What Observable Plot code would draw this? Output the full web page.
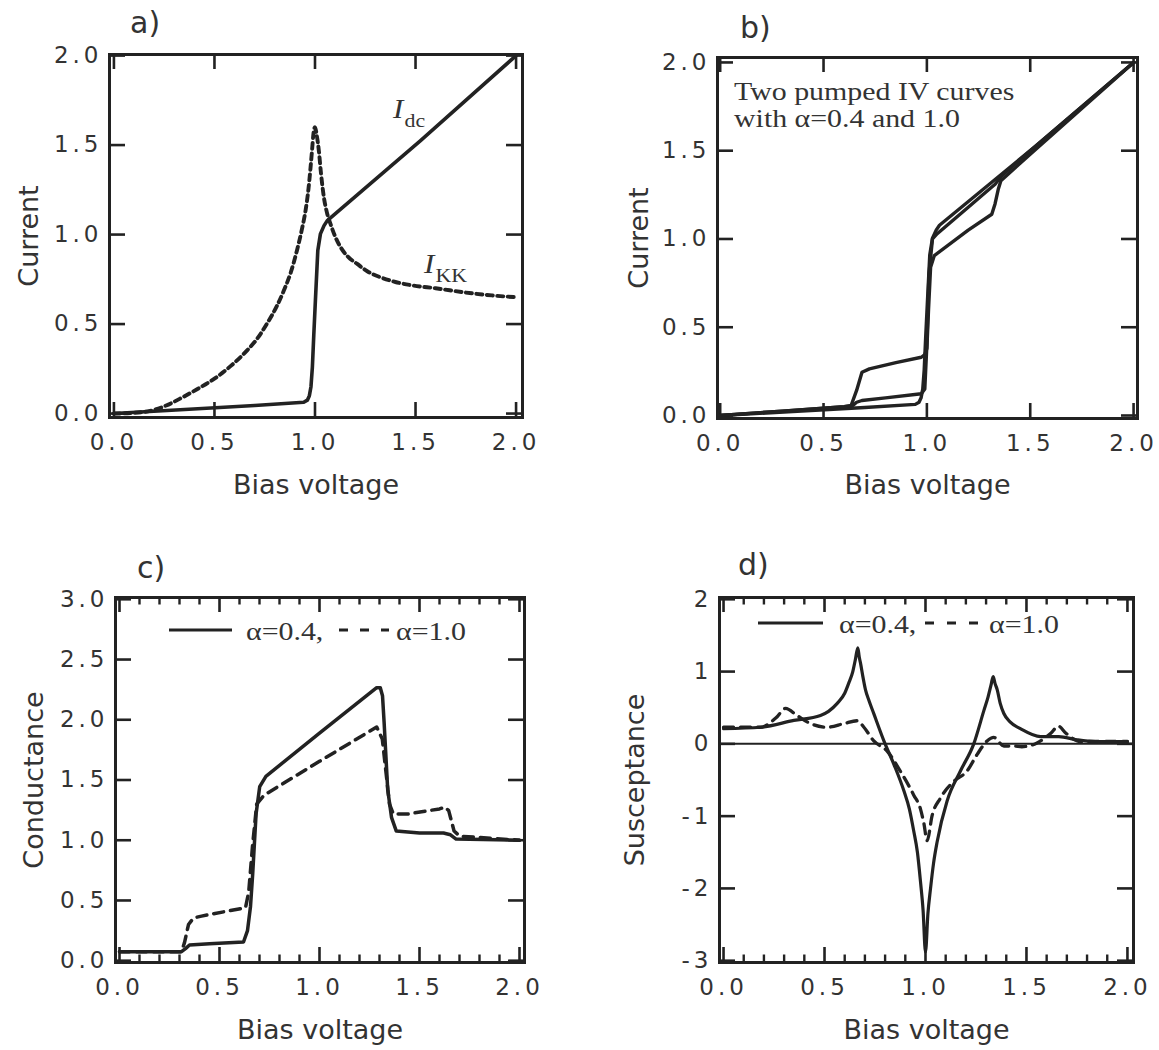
<!DOCTYPE html>
<html>
<head>
<meta charset="utf-8">
<script src="https://cdn.jsdelivr.net/npm/d3@7"></script>
<script src="https://cdn.jsdelivr.net/npm/@observablehq/plot@0.6"></script>
<style>
  html, body { margin: 0; padding: 0; background: #fff; }
  #root { position: relative; width: 1159px; height: 1050px; overflow: hidden; background: #fff; }
  .panel { position: absolute; }
  .panel g[aria-label="x-axis tick label"],
  .panel g[aria-label="y-axis tick label"] { font-size: 23px !important; }
  .panel g[aria-label="x-axis tick label"] text,
  .panel g[aria-label="y-axis tick label"] text { letter-spacing: 4px; font-size: 23px; }
  .panel g[aria-label="xtitle"] text { letter-spacing: 0.7px; }
  #overlay { position: absolute; left: 0; top: 0; pointer-events: none; }
  #overlay .plab { font-family: "DejaVu Sans"; font-size: 30px; fill: #333; }
  #overlay .serif { font-family: "Liberation Serif"; fill: #333; }
</style>
</head>
<body>
<div id="root">
  <div class="panel" id="pa" style="left:0px;top:0px"></div>
  <div class="panel" id="pb" style="left:580px;top:0px"></div>
  <div class="panel" id="pc" style="left:0px;top:520px"></div>
  <div class="panel" id="pd" style="left:580px;top:520px"></div>
  <svg id="overlay" width="1159" height="1050" xmlns="http://www.w3.org/2000/svg">
    <text class="plab" x="130" y="33">a)</text>
    <text class="plab" x="740" y="38">b)</text>
    <text class="plab" x="137" y="578">c)</text>
    <text class="plab" x="738" y="575">d)</text>

    <g transform="translate(393,118) scale(1.15,1)">
      <text class="serif" font-size="27" font-style="italic" x="0" y="0">I</text>
      <text class="serif" font-size="19" x="10" y="9">dc</text>
    </g>
    <g transform="translate(424,273) scale(1.15,1)">
      <text class="serif" font-size="27" font-style="italic" x="0" y="0">I</text>
      <text class="serif" font-size="19" x="10" y="9">KK</text>
    </g>

    <g transform="translate(734,100) scale(1.15,1)">
      <text class="serif" font-size="26" x="0" y="0">Two pumped IV curves</text>
      <text class="serif" font-size="26" x="0" y="27">with α=0.4 and 1.0</text>
    </g>

    <line x1="169" y1="630" x2="232" y2="630" stroke="#222" stroke-width="3"/>
    <text class="serif" font-size="26" transform="translate(246,640) scale(1.15,1)">α=0.4,</text>
    <line x1="339" y1="630" x2="389" y2="630" stroke="#222" stroke-width="3" stroke-dasharray="9,12"/>
    <text class="serif" font-size="26" transform="translate(396,640) scale(1.15,1)">α=1.0</text>

    <line x1="758" y1="623" x2="823" y2="623" stroke="#222" stroke-width="3"/>
    <text class="serif" font-size="26" transform="translate(839,633) scale(1.15,1)">α=0.4,</text>
    <line x1="925" y1="623" x2="979" y2="623" stroke="#222" stroke-width="3" stroke-dasharray="9,13"/>
    <text class="serif" font-size="26" transform="translate(989,633) scale(1.15,1)">α=1.0</text>
  </svg>
</div>
<script>
const ink = "#222";

// ---------- Panel a: unpumped DC current and its Kramers-Kronig partner ----------
const aDcV = [0, 0.33, 0.7, 0.944, 0.962, 0.972, 0.98, 0.987, 0.994, 1.002, 1.014, 1.027, 1.045, 1.061, 1.525, 2.0];
const aDcI = [0, 0.021, 0.045, 0.063, 0.075, 0.1, 0.15, 0.259, 0.44, 0.631, 0.911, 1.004, 1.05, 1.078, 1.525, 2.0];
const aKkV = [0, 0.1, 0.18, 0.26, 0.34, 0.42, 0.5, 0.58, 0.66, 0.72, 0.76, 0.81, 0.845, 0.88, 0.91, 0.935, 0.953, 0.968, 0.978, 0.986, 0.992, 1.0, 1.008, 1.019, 1.03, 1.044, 1.06, 1.077, 1.1, 1.127, 1.165, 1.21, 1.26, 1.326, 1.4, 1.49, 1.6, 1.75, 1.88, 2.0];
const aKkI = [0, 0.004, 0.015, 0.045, 0.09, 0.14, 0.195, 0.265, 0.35, 0.43, 0.5, 0.6, 0.687, 0.79, 0.91, 1.03, 1.134, 1.26, 1.376, 1.48, 1.56, 1.6, 1.56, 1.47, 1.34, 1.21, 1.12, 1.06, 0.99, 0.93, 0.875, 0.836, 0.795, 0.761, 0.735, 0.715, 0.7, 0.676, 0.66, 0.65];

// ---------- Panel b: pumped IV curves ----------
const bA04V = [0, 0.3, 0.6, 0.642, 0.66, 0.686, 0.8, 0.973, 0.99, 1.0, 1.01, 1.027, 1.05, 1.2, 1.3, 1.33, 1.36, 1.5, 2.0];
const bA04I = [0, 0.025, 0.05, 0.057, 0.075, 0.085, 0.1, 0.123, 0.15, 0.4, 0.8, 1.0, 1.03, 1.18, 1.28, 1.31, 1.355, 1.5, 2.0];
const bA10V = [0, 0.3, 0.6, 0.633, 0.66, 0.686, 0.722, 0.85, 0.973, 0.99, 1.0, 1.008, 1.018, 1.036, 1.2, 1.314, 1.33, 1.345, 1.358, 1.5, 2.0];
const bA10I = [0, 0.025, 0.05, 0.055, 0.142, 0.245, 0.264, 0.3, 0.33, 0.345, 0.38, 0.6, 0.84, 0.906, 1.05, 1.14, 1.2, 1.28, 1.33, 1.48, 2.0];

// ---------- Panel c: conductance ----------
const cA04V = [0, 0.31, 0.33, 0.35, 0.45, 0.62, 0.64, 0.655, 0.666, 0.683, 0.701, 0.732, 1.0, 1.286, 1.304, 1.315, 1.323, 1.341, 1.36, 1.384, 1.5, 1.62, 1.655, 1.683, 2.0];
const cA04G = [0.075, 0.075, 0.1, 0.13, 0.14, 0.155, 0.25, 0.45, 0.72, 1.22, 1.445, 1.53, 1.89, 2.266, 2.266, 2.2, 1.98, 1.42, 1.19, 1.076, 1.06, 1.06, 1.045, 1.01, 1.0];
const cA10V = [0, 0.31, 0.325, 0.345, 0.37, 0.41, 0.63, 0.646, 0.665, 0.686, 0.723, 1.0, 1.286, 1.314, 1.35, 1.369, 1.443, 1.6, 1.627, 1.646, 1.673, 1.701, 2.0];
const cA10G = [0.075, 0.075, 0.15, 0.3, 0.355, 0.37, 0.44, 0.57, 0.95, 1.3, 1.374, 1.655, 1.94, 1.84, 1.3, 1.218, 1.218, 1.26, 1.275, 1.246, 1.076, 1.034, 1.0];

// ---------- Panel d: susceptance ----------
const dA04V = [0, 0.183, 0.348, 0.48, 0.52, 0.563, 0.6, 0.62, 0.64, 0.653, 0.665, 0.672, 0.678, 0.69, 0.703, 0.72, 0.744, 0.794, 0.843, 0.893, 0.92, 0.942, 0.96, 0.975, 0.988, 1.0, 1.012, 1.025, 1.04, 1.058, 1.107, 1.173, 1.239, 1.289, 1.31, 1.325, 1.335, 1.345, 1.355, 1.37, 1.388, 1.42, 1.47, 1.57, 1.66, 1.75, 1.84, 2.0];
const dA04B = [0.21, 0.23, 0.324, 0.394, 0.45, 0.56, 0.7, 0.84, 1.0, 1.17, 1.33, 1.2, 1.12, 0.93, 0.746, 0.6, 0.418, 0.042, -0.28, -0.65, -0.9, -1.21, -1.5, -1.9, -2.3, -2.88, -2.35, -2.0, -1.65, -1.35, -0.79, -0.375, 0, 0.46, 0.65, 0.82, 0.93, 0.83, 0.75, 0.56, 0.42, 0.3, 0.21, 0.1, 0.1, 0.057, 0.033, 0.03];
const dA10V = [0, 0.183, 0.26, 0.307, 0.365, 0.431, 0.513, 0.596, 0.662, 0.695, 0.744, 0.81, 0.876, 0.942, 0.975, 0.992, 1.008, 1.033, 1.074, 1.14, 1.206, 1.256, 1.305, 1.338, 1.388, 1.437, 1.477, 1.55, 1.622, 1.658, 1.694, 1.767, 2.0];
const dA10B = [0.23, 0.23, 0.36, 0.49, 0.39, 0.28, 0.23, 0.28, 0.32, 0.23, 0.04, -0.1, -0.38, -0.71, -0.9, -1.1, -1.34, -0.99, -0.75, -0.52, -0.375, -0.145, 0.04, 0.09, -0.03, -0.03, -0.04, 0.01, 0.15, 0.245, 0.15, 0.033, 0.033];

// ---------- Ticks ----------
const xMajor = [0, 0.5, 1, 1.5, 2];
const xMinor = [0.1, 0.2, 0.3, 0.4, 0.6, 0.7, 0.8, 0.9, 1.1, 1.2, 1.3, 1.4, 1.6, 1.7, 1.8, 1.9];
const yTicksIV = [0, 0.5, 1, 1.5, 2];
const yTicksG = [0, 0.5, 1, 1.5, 2, 2.5, 3];
const yTicksB = [-3, -2, -1, 0, 1, 2];

const rows = (xs, ys) => xs.map((x, i) => ({x, y: ys[i]}));

function tickRules(vals, axis, len, cfg, sw) {
  const [xa, xb] = cfg.xDomain, [ya, yb] = cfg.yDomain;
  const iw = cfg.width - cfg.ml - cfg.mr, ih = cfg.height - cfg.mt - cfg.mb;
  const ux = len * (xb - xa) / iw, uy = len * (yb - ya) / ih;
  const o = {stroke: ink, strokeWidth: sw, strokeLinecap: "butt"};
  if (axis === "x") return [
    Plot.ruleX(vals, {x: d => d, y1: ya, y2: ya + uy, ...o}),
    Plot.ruleX(vals, {x: d => d, y1: yb, y2: yb - uy, ...o})
  ];
  return [
    Plot.ruleY(vals, {y: d => d, x1: xa, x2: xa + ux, ...o}),
    Plot.ruleY(vals, {y: d => d, x1: xb, x2: xb - ux, ...o})
  ];
}

function panel(cfg) {
  const marks = [];
  marks.push(...tickRules(xMajor, "x", 15, cfg, 2.6));
  if (cfg.minor) marks.push(...tickRules(xMinor, "x", 7.5, cfg, 2.4));
  marks.push(...tickRules(cfg.yTicks, "y", 16, cfg, 2.6));
  if (cfg.zero) marks.push(Plot.ruleY([0], {stroke: ink, strokeWidth: 2}));
  for (const s of cfg.series) {
    marks.push(Plot.line(s.data, {x: "x", y: "y", stroke: ink, strokeWidth: s.sw, strokeDasharray: s.dash, strokeLinejoin: "round", curve: s.curve || "linear"}));
  }
  marks.push(Plot.frame({stroke: ink, strokeWidth: 3}));
  marks.push(Plot.axisX(xMajor, {anchor: "bottom", tickSize: 0, tickPadding: 16, tickFormat: d3.format(".1f"), fontSize: 23, label: null}));
  marks.push(Plot.axisY(cfg.yTicks, {anchor: "left", tickSize: 0, tickPadding: 7, tickFormat: cfg.yFormat, fontSize: 23, label: null}));
  marks.push(Plot.text([cfg.xTitle], {frameAnchor: "bottom", dy: cfg.xTitleDy, lineAnchor: "bottom", text: d => d, fontSize: 27, fontFamily: "DejaVu Sans", fill: "#333", ariaLabel: "xtitle"}));
  marks.push(Plot.text([cfg.yTitle], {frameAnchor: "left", dx: cfg.yTitleDx, rotate: -90, lineAnchor: "bottom", textAnchor: "middle", text: d => d, fontSize: 27, fontFamily: "DejaVu Sans", fill: "#333", ariaLabel: "ytitle"}));
  const chart = Plot.plot({
    width: cfg.width, height: cfg.height,
    marginLeft: cfg.ml, marginRight: cfg.mr, marginTop: cfg.mt, marginBottom: cfg.mb,
    x: {type: "linear", domain: cfg.xDomain},
    y: {type: "linear", domain: cfg.yDomain},
    style: {fontFamily: "DejaVu Sans", fontSize: "23px", color: "#333", background: "transparent", overflow: "visible"},
    marks
  });
  document.getElementById(cfg.id).appendChild(chart);
}

const f1 = d3.format(".1f");

panel({
  id: "pa", width: 580, height: 520, ml: 109, mr: 58, mt: 54, mb: 103,
  xDomain: [-0.022, 2.032], yDomain: [-0.022, 2.006],
  yTicks: yTicksIV, yFormat: f1, minor: false,
  xTitle: "Bias voltage", xTitleDy: 76, yTitle: "Current", yTitleDx: -72,
  series: [
    {data: rows(aKkV, aKkI), sw: 3.9, dash: "6,4.5", curve: "monotone-x"},
    {data: rows(aDcV, aDcI), sw: 3.6}
  ]
});

panel({
  id: "pb", width: 579, height: 520, ml: 137, mr: 22, mt: 57, mb: 102,
  xDomain: [-0.013, 2.019], yDomain: [-0.017, 2.028],
  yTicks: yTicksIV, yFormat: f1, minor: false,
  xTitle: "Bias voltage", xTitleDy: 75, yTitle: "Current", yTitleDx: -70,
  series: [
    {data: rows(aDcV, aDcI), sw: 3.4},
    {data: rows(bA04V, bA04I), sw: 3.4},
    {data: rows(bA10V, bA10I), sw: 3.4}
  ]
});

panel({
  id: "pc", width: 580, height: 530, ml: 115, mr: 56, mt: 77, mb: 88,
  xDomain: [-0.02, 2.025], yDomain: [-0.015, 3.015],
  yTicks: yTicksG, yFormat: f1, minor: true,
  xTitle: "Bias voltage", xTitleDy: 76, yTitle: "Conductance", yTitleDx: -73,
  series: [
    {data: rows(cA10V, cA10G), sw: 3.5, dash: "10,7"},
    {data: rows(cA04V, cA04G), sw: 3.5}
  ]
});

panel({
  id: "pd", width: 579, height: 530, ml: 139, mr: 26, mt: 77, mb: 88,
  xDomain: [-0.02, 2.03], yDomain: [-3.025, 2.025],
  yTicks: yTicksB, yFormat: d => String(d), minor: true, zero: true,
  xTitle: "Bias voltage", xTitleDy: 76, yTitle: "Susceptance", yTitleDx: -76,
  series: [
    {data: rows(dA10V, dA10B), sw: 3.3, dash: "10,7", curve: "monotone-x"},
    {data: rows(dA04V, dA04B), sw: 3.2, curve: "monotone-x"}
  ]
});
</script>
</body>
</html>
